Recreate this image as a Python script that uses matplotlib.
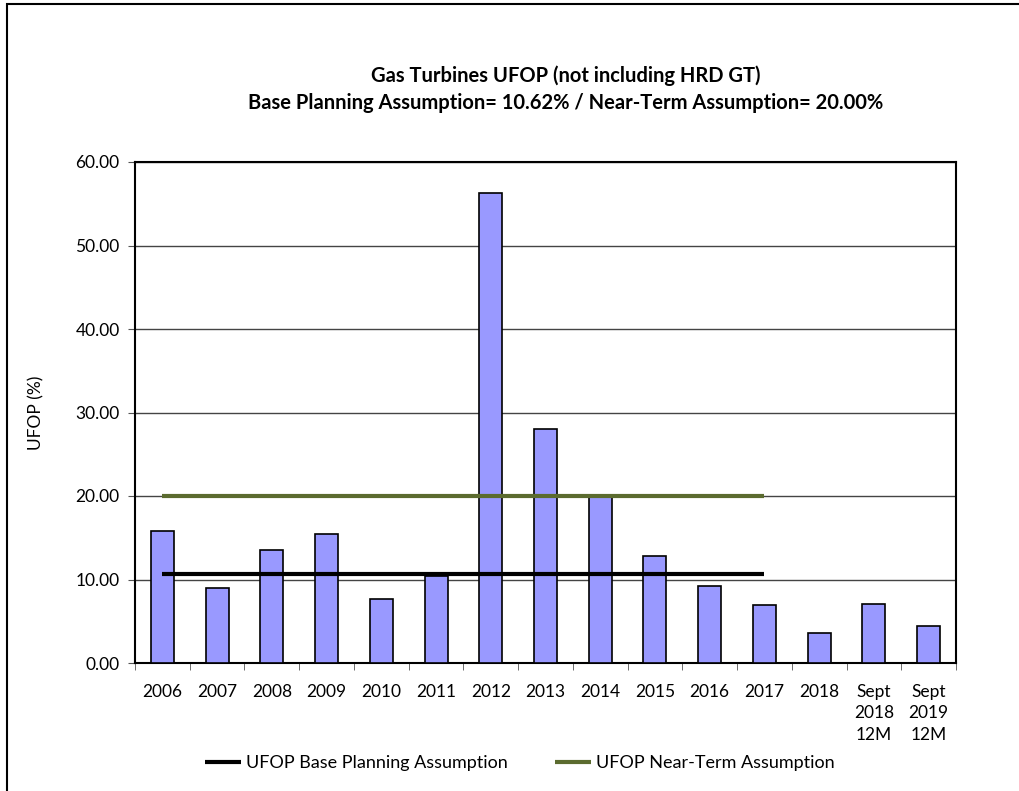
import numpy as np
import matplotlib
matplotlib.use("Agg")
import matplotlib.pyplot as plt
from matplotlib.patches import Rectangle

plt.rcParams['font.family'] = ['Lato', 'DejaVu Sans']

# Годовые значения UFOP, %
categories = ["2006", "2007", "2008", "2009", "2010", "2011", "2012", "2013",
              "2014", "2015", "2016", "2017", "2018", "Sept\n2018\n12M", "Sept\n2019\n12M"]
ufop = [15.86, 9.00, 13.52, 15.42, 7.63, 10.38, 56.30, 28.05,
        19.95, 12.79, 9.28, 6.94, 3.63, 7.06, 4.40]

# Линии допущений (от 2006 до 2017)
base_assumption = 10.62
near_term_assumption = 20.00
assumption_span = ["2006", "2017"]

fig = plt.figure(figsize=(10.19, 7.91), dpi=100)
ax = fig.add_axes([135 / 1019, 1 - 663 / 791, (956 - 135) / 1019, (663 - 162) / 791])

x = np.arange(len(categories))
ax.bar(x, ufop, width=0.42, color="#9999FF", edgecolor="black", linewidth=1.2, zorder=3)

i0, i1 = categories.index(assumption_span[0]), categories.index(assumption_span[1])
ax.plot([x[i0], x[i1]], [base_assumption] * 2, color="black", linewidth=3,
        label="UFOP Base Planning Assumption", zorder=4, solid_capstyle="butt")
ax.plot([x[i0], x[i1]], [near_term_assumption] * 2, color="#5B6B2F", linewidth=3,
        label="UFOP Near-Term Assumption", zorder=4, solid_capstyle="butt")

ax.set_xlim(-0.5, len(categories) - 0.5)
ax.set_ylim(0, 60)
ax.set_yticks(np.arange(0, 61, 10))
ax.set_yticklabels([f"{v:.2f}" for v in np.arange(0, 61, 10)], fontsize=12.5)
ax.set_xticks(x)
ax.set_xticklabels(categories, fontsize=12.5, linespacing=1.42)
ax.set_xticks(np.arange(-0.5, len(categories), 1), minor=True)
ax.tick_params(axis="x", which="major", length=0, pad=15)
ax.tick_params(axis="x", which="minor", length=5, direction="out", color="#555555")
ax.tick_params(axis="y", length=5, direction="out", color="#555555", pad=6)

ax.grid(axis="y", color="#444444", linewidth=1.0, zorder=0)
ax.set_axisbelow(True)
for s in ax.spines.values():
    s.set_linewidth(1.5)
    s.set_color("black")

ax.set_ylabel("UFOP (%)", fontsize=12.5, labelpad=22)

fig.text(0.555, 1 - 76 / 791, "Gas Turbines UFOP (not including HRD GT)",
         ha="center", va="center", fontsize=14.5, fontweight="bold")
fig.text(0.555, 1 - 103 / 791, "Base Planning Assumption= 10.62% / Near-Term Assumption= 20.00%",
         ha="center", va="center", fontsize=14.5, fontweight="bold")

fig.legend(loc="center", bbox_to_anchor=(0.51, 1 - 763 / 791), ncol=2, frameon=False,
           fontsize=13, handlelength=2.0, handletextpad=0.3, columnspacing=2.6)

# Рамка вокруг всей диаграммы
fig.patches.append(Rectangle((7 / 1019, -0.1), 1.2, 1 - 3.5 / 791 + 0.1,
                             transform=fig.transFigure, fill=False,
                             edgecolor="black", linewidth=1.5))

fig.savefig("out.png", dpi=100)
